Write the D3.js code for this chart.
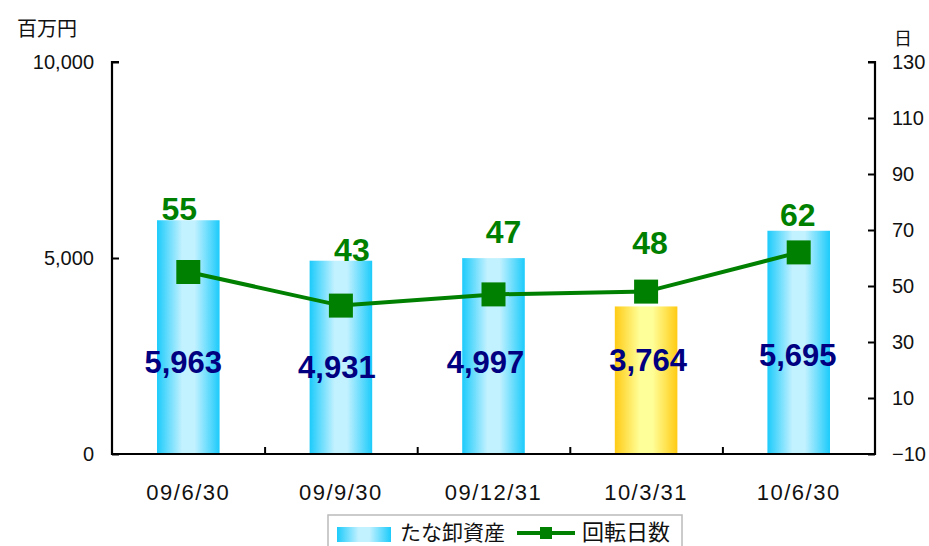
<!DOCTYPE html>
<html>
<head>
<meta charset="utf-8">
<script src="https://cdn.jsdelivr.net/npm/d3@7"></script>
<style>
  html, body { margin: 0; padding: 0; background: #fff; }
  svg { display: block; }
</style>
</head>
<body>
<svg id="chart" width="929" height="546"></svg>
<script>
// ---- data ----
const categories = ["09/6/30", "09/9/30", "09/12/31", "10/3/31", "10/6/30"];
const inventory = [5963, 4931, 4997, 3764, 5695];   // たな卸資産 (百万円)
const turnoverDays = [55, 43, 47, 48, 62];           // 回転日数 (日)
const leftTicks = [0, 5000, 10000];
const rightTicks = [-10, 10, 30, 50, 70, 90, 110, 130];
const seriesNames = ["たな卸資産", "回転日数"];
const highlightCategory = "10/3/31";

// ---- layout / style (not data) ----
const M = { left: 112, right: 875, top: 62, bottom: 454 };
const barLabelShift = [[-5, 0], [-4, 5], [-8, 0], [2, -2], [-1, -7]];
const dayLabelShift = [[-9, -64], [11, -56], [10, -63], [4, -49], [-1, -38]];
const JP = "'Noto Sans CJK JP', 'Noto Sans', sans-serif";
const NUM = "'Liberation Sans', Arial, sans-serif";

const svg = d3.select("#chart");

const x = d3.scaleBand().domain(categories).range([M.left, M.right]).paddingInner(0.59).paddingOuter(0.295);
const yL = d3.scaleLinear().domain([0, 10000]).range([M.bottom, M.top]);
const yR = d3.scaleLinear().domain([-10, 130]).range([M.bottom, M.top]);

// gradients
const defs = svg.append("defs");
function grad(id, edge, mid) {
  const g = defs.append("linearGradient").attr("id", id).attr("x1", "0").attr("x2", "1").attr("y1", "0").attr("y2", "0");
  g.append("stop").attr("offset", "0%").attr("stop-color", edge);
  g.append("stop").attr("offset", "40%").attr("stop-color", mid);
  g.append("stop").attr("offset", "60%").attr("stop-color", mid);
  g.append("stop").attr("offset", "100%").attr("stop-color", edge);
  return g;
}
grad("gBlue", "#1ccbfb", "#c2f1ff");
grad("gYellow", "#ffcb14", "#ffff99");

// bars
svg.append("g").selectAll("rect").data(categories).join("rect")
  .attr("x", d => x(d))
  .attr("width", x.bandwidth())
  .attr("y", (d, i) => yL(inventory[i]))
  .attr("height", (d, i) => yL(0) - yL(inventory[i]))
  .attr("fill", d => d === highlightCategory ? "url(#gYellow)" : "url(#gBlue)");

// axes
const axL = svg.append("g").attr("transform", `translate(${M.left},0)`)
  .call(d3.axisRight(yL).tickValues(leftTicks).tickSize(7).tickFormat(d3.format(",")));
axL.selectAll("text").attr("x", -18).attr("text-anchor", "end");
const axR = svg.append("g").attr("transform", `translate(${M.right},0)`)
  .call(d3.axisLeft(yR).tickValues(rightTicks).tickSize(7).tickFormat(d3.format("d")));
axR.selectAll("text").attr("x", 17).attr("text-anchor", "start");
const boundaries = categories.slice(1).map(c => x(c) - x.step() * x.paddingInner() / 2);
const axB = svg.append("g").attr("transform", `translate(0,${M.bottom})`)
  .call(d3.axisTop(d3.scaleLinear().domain([M.left, M.right]).range([M.left, M.right]))
    .tickValues(boundaries).tickSize(7).tickFormat(""));
[axL, axR, axB].forEach(a => {
  a.select(".domain").attr("stroke", "#000").attr("stroke-width", 2.2);
  a.selectAll(".tick line").attr("stroke", "#000").attr("stroke-width", 2);
  a.selectAll("text").attr("font-family", NUM).attr("font-size", 20).attr("fill", "#111");
});
axL.select(".domain").attr("d", `M7,${M.top}H0V${M.bottom}H7`);
axR.select(".domain").attr("d", `M-7,${M.top}H0V${M.bottom}H-7`);
axB.select(".domain").attr("d", `M${M.left},0H${M.right}`);

// category labels
svg.append("g").selectAll("text").data(categories).join("text")
  .attr("x", d => x(d) + x.bandwidth() / 2)
  .attr("y", 500)
  .attr("text-anchor", "middle")
  .attr("font-family", NUM).attr("font-size", 22).attr("letter-spacing", 1.5)
  .attr("fill", "#111")
  .text(d => d);

// unit labels
svg.append("text").attr("x", 47).attr("y", 36).attr("text-anchor", "middle")
  .attr("font-family", JP).attr("font-size", 20).attr("fill", "#111").text("百万円");
svg.append("text").attr("x", 903).attr("y", 45).attr("text-anchor", "middle")
  .attr("font-family", JP).attr("font-size", 18).attr("fill", "#111").text("日");

// line
const cx = d => x(d) + x.bandwidth() / 2;
const line = d3.line().x((d, i) => cx(categories[i])).y(d => yR(d));
svg.append("path").datum(turnoverDays).attr("d", line)
  .attr("fill", "none").attr("stroke", "#008000").attr("stroke-width", 4);
svg.append("g").selectAll("rect").data(turnoverDays).join("rect")
  .attr("x", (d, i) => cx(categories[i]) - 12)
  .attr("y", d => yR(d) - 12)
  .attr("width", 24).attr("height", 24)
  .attr("fill", "#008000");

// bar value labels
svg.append("g").selectAll("text").data(inventory).join("text")
  .attr("x", (d, i) => cx(categories[i]) + barLabelShift[i][0])
  .attr("y", (d, i) => 362 + barLabelShift[i][1])
  .attr("dy", "0.36em")
  .attr("text-anchor", "middle")
  .attr("font-family", NUM).attr("font-weight", "bold").attr("font-size", 31)
  .attr("fill", "#000080")
  .text(d => d3.format(",")(d));

// line value labels
svg.append("g").selectAll("text").data(turnoverDays).join("text")
  .attr("x", (d, i) => cx(categories[i]) + dayLabelShift[i][0])
  .attr("y", (d, i) => yR(d) + dayLabelShift[i][1])
  .attr("dy", "0.36em")
  .attr("text-anchor", "middle")
  .attr("font-family", NUM).attr("font-weight", "bold").attr("font-size", 32)
  .attr("fill", "#008000")
  .text(d => d);

// legend
const lg = svg.append("g");
lg.append("rect").attr("x", 328).attr("y", 515).attr("width", 354).attr("height", 40)
  .attr("fill", "#fff").attr("stroke", "#bbb").attr("stroke-width", 1.5);
lg.append("rect").attr("x", 337).attr("y", 527).attr("width", 54).attr("height", 15).attr("fill", "url(#gBlue)");
lg.append("text").attr("x", 400).attr("y", 540).attr("font-family", JP).attr("font-size", 21)
  .attr("fill", "#111").text(seriesNames[0]);
lg.append("line").attr("x1", 517).attr("x2", 575).attr("y1", 533).attr("y2", 533)
  .attr("stroke", "#008000").attr("stroke-width", 4);
lg.append("rect").attr("x", 540).attr("y", 527).attr("width", 12).attr("height", 12).attr("fill", "#008000");
lg.append("text").attr("x", 582).attr("y", 540).attr("font-family", JP).attr("font-size", 22)
  .attr("fill", "#111").text(seriesNames[1]);
</script>
</body>
</html>
